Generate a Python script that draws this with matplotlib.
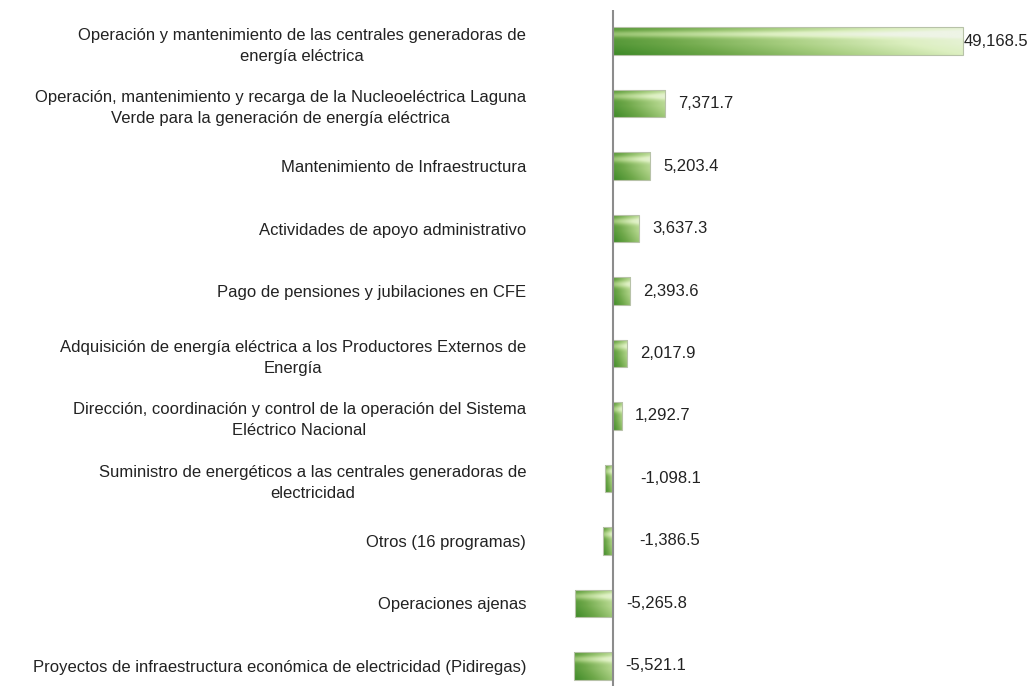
import numpy as np
import matplotlib
matplotlib.use("Agg")
import matplotlib.pyplot as plt
from matplotlib.patches import Rectangle
from matplotlib.colors import LinearSegmentedColormap

# programas presupuestarios (variacion, millones de pesos)
programas = [
    "Operación y mantenimiento de las centrales generadoras de\nenergía eléctrica",
    "Operación, mantenimiento y recarga de la Nucleoeléctrica Laguna\nVerde para la generación de energía eléctrica",
    "Mantenimiento de Infraestructura",
    "Actividades de apoyo administrativo",
    "Pago de pensiones y jubilaciones en CFE",
    "Adquisición de energía eléctrica a los Productores Externos de\nEnergía",
    "Dirección, coordinación y control de la operación del Sistema\nEléctrico Nacional",
    "Suministro de energéticos a las centrales generadoras de\nelectricidad",
    "Otros (16 programas)",
    "Operaciones ajenas",
    "Proyectos de infraestructura económica de electricidad (Pidiregas)",
]
valores = [49168.5, 7371.7, 5203.4, 3637.3, 2393.6, 2017.9, 1292.7,
           -1098.1, -1386.5, -5265.8, -5521.1]

plt.rcParams["font.family"] = ["Liberation Sans", "DejaVu Sans"]

fig = plt.figure(figsize=(10.36, 6.86), dpi=100)
ax = fig.add_axes([540 / 1036, -11 / 686, 490 / 1036, 687 / 686])
ax.set_xlim(-10250, 58570)
n = len(valores)
ax.set_ylim(n - 0.5, -0.5)

cmap = LinearSegmentedColormap.from_list(
    "g", ["#3e8a28", "#6fa84a", "#a9cf82", "#dcefc0", "#eef4e6"])
h = 0.44
vmax = max(valores)
for i, v in enumerate(valores):
    x0, x1 = min(0, v), max(0, v)
    rect = Rectangle((x0, i - h / 2), x1 - x0, h, facecolor="none",
                     edgecolor="#b7c2a8", linewidth=0.8, zorder=3)
    ax.add_patch(rect)
    gx = np.linspace(0, 1, 200)
    gy = np.linspace(0, 1, 40)
    GX, GY = np.meshgrid(gx, gy)
    span = 0.55 + 0.45 * abs(v) / vmax
    base = 0.12 + GX * span * 0.75
    # light band near the top, darker toward the bottom
    hl = np.exp(-((GY - 0.25) / 0.13) ** 2) * 0.3
    dk = -0.12 * np.clip((GY - 0.6) / 0.4, 0, 1)
    Z = np.clip(base + hl + dk, 0, 1)
    im = ax.imshow(Z, extent=(x0, x1, i + h / 2, i - h / 2), cmap=cmap,
                   vmin=0, vmax=1, aspect="auto", zorder=2, interpolation="bilinear")
    im.set_clip_path(rect)

    lab = f"{v:,.1f}"
    if v >= 0:
        off = 1 if v == vmax else 13
        ax.annotate(lab, (v, i), xytext=(off, 0), textcoords="offset pixels",
                    ha="left", va="center", fontsize=12, color="#222222")
    else:
        ax.annotate(lab, (v / 2, i), xytext=(62, 0), textcoords="offset pixels",
                    ha="center", va="center", fontsize=12, color="#222222")

ax.axvline(0, color="#8c8c8c", linewidth=1.5, zorder=4)
ax.set_yticks(range(n))
ax.set_yticklabels(programas, fontsize=12, color="#222222",
                   multialignment="center", linespacing=1.5)
ax.tick_params(axis="y", length=0, pad=10)
ax.set_xticks([])
for s in ax.spines.values():
    s.set_visible(False)

fig.savefig("out.png", dpi=100)
